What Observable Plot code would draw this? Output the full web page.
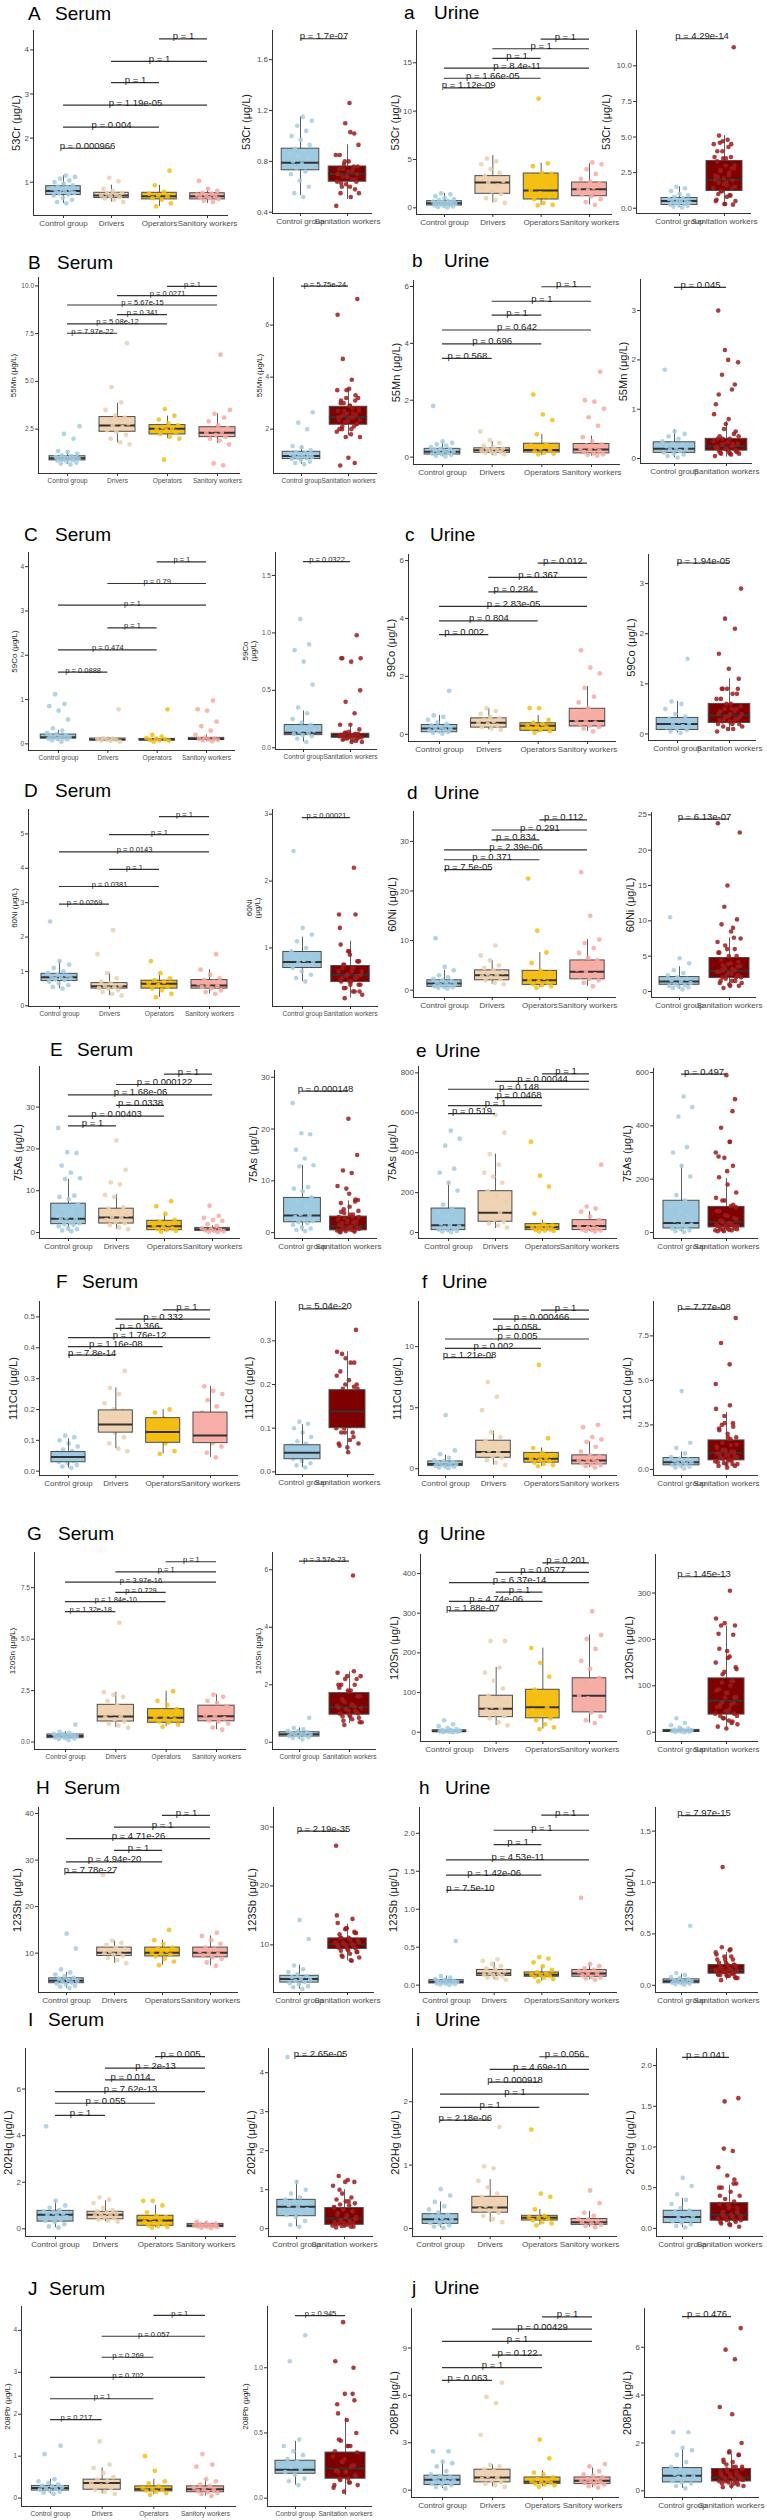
<!DOCTYPE html>
<html><head><meta charset="utf-8">
<script src="https://cdn.jsdelivr.net/npm/d3@7"></script>
<script src="https://cdn.jsdelivr.net/npm/@observablehq/plot@0.6"></script>
<style>
body{margin:0;background:#fff;}
#page{position:relative;width:767px;height:2520px;overflow:hidden;background:#fff;font-family:"Liberation Sans",Arial,sans-serif;}
#page svg{position:absolute;overflow:visible;}
</style></head><body><div id="page"></div>
<script>
// ---------- categories ----------
const groups4 = ["Control group","Drivers","Operators","Sanitory workers"];
const groups2 = ["Control group","Sanitation workers"];
const metals = ["53Cr","55Mn","59Co","60Ni","75As","111Cd","120Sn","123Sb","202Hg","208Pb"];
const panelIds = ["A","a","B","b","C","c","D","d","E","e","F","f","G","g","H","h","I","i","J","j"];
// bracket pair orders
const pairsA = [[0,1],[0,2],[0,3],[1,2],[1,3],[2,3]];
const pairsB = [[0,1],[0,2],[1,2],[0,3],[1,3],[2,3]];

// ---------- A: Serum 53Cr ----------
const A_pts = [[0.52,0.55,0.6,0.65,0.7,0.72,0.75,0.76,0.78,0.8,0.82,0.84,0.86,0.88,0.9,0.93,0.97,1.0,1.04,1.08,1.12,1.15],
 [0.55,0.6,0.63,0.66,0.68,0.7,0.72,0.74,0.76,0.8,0.85,1.02,1.1],
 [0.45,0.52,0.6,0.64,0.68,0.7,0.74,0.78,0.93,1.26],
 [0.55,0.58,0.62,0.64,0.66,0.68,0.7,0.72,0.74,0.76,0.8,0.85,1.03]];
const A_boxL = [[0.52,0.71,0.80,0.91,1.15],[0.55,0.64,0.70,0.76,0.93],[0.45,0.61,0.68,0.76,0.93],[0.52,0.61,0.68,0.75,0.85]];
const A_boxR = [[0.53,0.73,0.79,0.90,1.15],[0.5,0.64,0.70,0.76,0.93]];
const A_brY = [1.77,2.25,2.75,3.26,3.74,4.25];
const A_brP = ["0.000966","0.004","1.19e-05","1","1","1"];
const A_brR = [1.765,"1.7e-07"];
const A_ticks = [[1,2,3,4],[0.4,0.8,1.2,1.6]];

// ---------- a: Urine 53Cr ----------
const a_pts = [[0.05,0.1,0.15,0.2,0.25,0.3,0.35,0.4,0.45,0.5,0.55,0.6,0.65,0.7,0.8,0.9,1.0,1.2,1.4,1.5],
 [0.5,0.8,1.0,1.4,1.7,2.0,2.3,2.6,2.8,3.0,3.3,3.6,4.0,4.5,4.8,5.1],
 [0.25,0.3,0.5,0.9,1.2,1.5,1.8,2.2,2.8,3.5,3.6,4.3,4.6,11.3],
 [0.3,0.6,0.9,1.2,1.4,1.6,1.8,1.95,2.1,2.3,2.5,2.7,3.0,3.5,4.0,4.5,4.7]];
const a_boxL = [[0.05,0.24,0.48,0.69,1.5],[0.5,1.45,2.62,3.28,5.4],[0.25,0.86,1.79,3.55,4.6],[0.3,1.2,1.93,2.62,4.55]];
const a_boxR = [[0.05,0.23,0.51,0.72,1.5],[0.2,1.21,2.0,3.32,5.1]];
const a_brY = [12.41,13.4,14.45,15.45,16.45,17.45];
const a_brP = ["1.12e-09","1.66e-05","8.4e-11","1","1","1"];
const a_brR = [11.9,"4.29e-14"];
const a_ticks = [[0,5,10,15],[0,2.5,5,7.5,10]];

// ---------- B: Serum 55Mn ----------
const B_pts = [[0.65,0.7,0.75,0.8,0.85,0.88,0.9,0.93,0.95,0.97,1.0,1.02,1.05,1.08,1.12,1.2,1.3,1.35,2.0,2.25,2.65],
 [1.7,1.8,2.0,2.2,2.35,2.45,2.6,2.7,2.8,2.9,3.0,3.1,3.2,3.5,3.9,4.7,7.0],
 [0.9,2.0,2.1,2.25,2.35,2.45,2.5,2.55,2.6,2.7,2.8,3.0,3.2,3.55],
 [0.6,0.7,1.7,1.9,2.0,2.1,2.2,2.3,2.35,2.45,2.55,2.7,2.9,3.1,3.3,3.5,6.4]];
const B_boxL = [[0.65,0.86,0.98,1.08,1.35],[1.78,2.36,2.69,3.13,3.85],[2.0,2.22,2.52,2.71,3.18],[1.75,2.08,2.31,2.6,3.3]];
const B_boxR = [[0.65,0.85,0.97,1.13,1.35],[1.74,2.17,2.47,2.86,3.54]];
const B_brY = [7.52,8.01,8.5,9.0,9.49,9.98];
const B_brP = ["7.97e-22","5.08e-12","0.341","5.67e-15","0.0271","1"];
const B_brR = [7.5,"5.75e-24"];
const B_ticks = [[2.5,5,7.5,10],[2,4,6]];

// ---------- b: Urine 55Mn ----------
const b_pts = [[0.02,0.05,0.08,0.1,0.12,0.15,0.18,0.2,0.22,0.25,0.28,0.3,0.35,0.4,0.45,0.5,0.55,1.8],
 [0.1,0.12,0.15,0.18,0.2,0.22,0.25,0.28,0.3,0.33,0.4,0.5,0.6,0.9],
 [0.1,0.12,0.15,0.2,0.25,0.3,0.4,0.45,0.8,1.3,1.5,2.2],
 [0.05,0.08,0.1,0.13,0.18,0.22,0.27,0.3,0.35,0.4,0.45,0.55,0.7,1.1,1.4,1.7,1.95,2.0,3.0]];
const b_boxL = [[0.02,0.09,0.19,0.29,0.55],[0.05,0.15,0.24,0.31,0.55],[0.05,0.16,0.25,0.47,0.8],[0.03,0.13,0.27,0.46,0.74]];
const b_boxR = [[0.02,0.115,0.2,0.33,0.59],[0.03,0.16,0.25,0.4,0.75]];
const b_brY = [3.47,3.98,4.47,4.99,5.48,5.99];
const b_brP = ["0.568","0.696","0.642","1","1","1"];
const b_brR = [3.47,"0.045"];
const b_ticks = [[0,2,4,6],[0,1,2,3]];

// ---------- C: Serum 59Co ----------
const C_pts = [[0.05,0.08,0.1,0.11,0.12,0.13,0.14,0.15,0.16,0.18,0.2,0.22,0.25,0.3,0.35,0.55,0.75,0.85,0.9,1.12],
 [0.05,0.07,0.08,0.09,0.1,0.11,0.12,0.13,0.78],
 [0.05,0.07,0.08,0.09,0.1,0.11,0.13,0.16,0.2,0.78],
 [0.06,0.08,0.09,0.1,0.11,0.12,0.14,0.2,0.3,0.4,0.5,0.75,0.78,0.98]];
const C_boxL = [[0.05,0.12,0.15,0.21,0.3],[0.05,0.075,0.1,0.12,0.15],[0.05,0.075,0.1,0.11,0.15],[0.05,0.09,0.11,0.135,0.2]];
const C_boxR = [[0.05,0.11,0.13,0.198,0.32],[0.04,0.087,0.105,0.122,0.18]];
const C_brY = [1.62,2.12,2.62,3.13,3.62,4.11];
const C_brP = ["0.0888","0.474","1","1","0.79","1"];
const C_brR = [1.62,"0.0322"];
const C_ticks = [[0,1,2,3,4],[0,0.5,1,1.5]];

// ---------- c: Urine 59Co ----------
const c_pts = [[0.02,0.05,0.08,0.1,0.13,0.16,0.2,0.22,0.25,0.3,0.35,0.4,0.5,0.6,0.65,1.5],
 [0.15,0.2,0.25,0.3,0.35,0.4,0.45,0.5,0.55,0.6,0.7,0.8,0.9],
 [0.05,0.1,0.15,0.2,0.25,0.28,0.3,0.35,0.4,0.5,0.9,0.9],
 [0.1,0.2,0.25,0.3,0.35,0.4,0.45,0.5,0.6,0.7,0.8,0.9,1.1,1.3,1.6,2.1,2.3,2.9]];
const c_boxL = [[0.02,0.07,0.2,0.32,0.65],[0.15,0.23,0.4,0.55,0.9],[0.05,0.12,0.29,0.38,0.65],[0.1,0.27,0.46,0.88,1.65]];
const c_boxR = [[0.02,0.08,0.2,0.32,0.65],[0.05,0.22,0.37,0.6,1.1]];
const c_brY = [3.44,3.92,4.42,4.92,5.42,5.91];
const c_brP = ["0.002","0.804","2.83e-05","0.284","0.367","0.012"];
const c_brR = [3.41,"1.94e-05"];
const c_ticks = [[0,2,4,6],[0,1,2,3]];

// ---------- D: Serum 60Ni ----------
const D_pts = [[0.5,0.55,0.6,0.65,0.7,0.75,0.78,0.8,0.82,0.85,0.88,0.9,0.95,1.0,1.1,1.2,1.3,2.45],
 [0.3,0.35,0.4,0.45,0.5,0.52,0.55,0.58,0.6,0.65,0.7,0.8,0.95,1.5,2.2],
 [0.25,0.35,0.45,0.5,0.55,0.6,0.65,0.7,0.75,0.8,0.95,1.3],
 [0.35,0.4,0.45,0.5,0.55,0.58,0.6,0.65,0.7,0.75,0.8,0.9,1.05,1.5]];
const D_boxL = [[0.5,0.72,0.83,0.93,1.3],[0.3,0.5,0.57,0.66,0.95],[0.25,0.5,0.64,0.73,0.95],[0.35,0.5,0.59,0.75,1.05]];
const D_boxR = [[0.5,0.7,0.79,0.94,1.16],[0.25,0.49,0.6,0.73,1.1]];
const D_brY = [2.96,3.47,3.97,4.48,4.98,5.5];
const D_brP = ["0.0269","0.0381","1","0.0143","1","1"];
const D_brR = [2.95,"0.00021"];
const D_ticks = [[0,1,2,3,4,5],[1,2,3]];

// ---------- d: Urine 60Ni ----------
const d_pts = [[0.3,0.5,0.6,0.7,0.8,0.9,1.0,1.2,1.4,1.6,1.8,2.0,2.3,2.6,3.0,4.0,4.7,10.5],
 [1.2,1.5,2.0,2.3,2.6,2.8,3.0,3.3,3.6,4.0,4.5,5.0,6.0,7.0,9.0],
 [0.5,0.8,1.0,1.2,1.5,1.8,2.0,2.5,3.0,3.5,3.9,5.5,7.6,12,22.5],
 [0.8,1.5,2.0,2.3,2.8,3.2,3.7,4.2,5,5.5,6,6.5,7.5,8.5,9.5,10.2,15,23.8]];
const d_boxL = [[0.3,0.67,1.34,2.0,4.0],[1.2,2.0,3.0,4.0,6.0],[0.5,1.07,2.0,3.9,7.6],[0.8,2.2,3.7,6.0,10.2]];
const d_boxR = [[0.3,0.95,1.42,2.04,3.5],[0.5,1.9,2.94,4.74,7.6]];
const d_brY = [24.3,26.3,28.3,30.3,32.3,34.35];
const d_brP = ["7.5e-05","0.371","2.39e-06","0.834","0.291","0.112"];
const d_brR = [24.4,"6.13e-07"];
const d_ticks = [[0,10,20,30],[0,5,10,15,20,25]];

// ---------- E: Serum 75As ----------
const E_pts = [[0.3,0.5,0.8,1.0,1.5,1.8,2.0,2.2,2.5,3.0,3.3,3.6,4,5,6,6.8,8,8.5,8.8,12.8,13,14.3,16,19,19.2,25],
 [0.8,1.2,1.8,2.2,2.5,3,3.5,3.8,4.2,5,5.7,6,8.5,9,11.5,12,15,22],
 [0.2,0.4,0.6,0.8,1.0,1.3,1.6,2.0,2.5,3,4.5,6.3,7.5],
 [0.1,0.2,0.3,0.4,0.5,0.6,0.8,1.0,1.5,2.0,2.8,3,3.5,4,6.4]];
const E_boxL = [[0.3,2.0,3.3,6.9,12.7],[0.8,2.15,3.6,5.7,9],[0.2,0.56,1.5,2.8,4.5],[0.1,0.4,0.8,1.1,1.6]];
const E_boxR = [[0.3,2.0,3.3,6.7,13],[0.1,0.44,1.25,3.1,6.1]];
const E_brY = [25.5,27.85,30.4,32.9,35.4,37.9];
const E_brP = ["1","0.00403","0.0338","1.68e-06","0.000122","1"];
const E_brR = [27.3,"0.000148"];
const E_ticks = [[0,10,20,30],[0,10,20,30]];

// ---------- e: Urine 75As ----------
const e_pts = [[2,5,8,12,15,20,25,30,37,45,60,80,100,120,140,210,250,300,320,435,470,510],
 [25,35,45,54,65,80,99,120,150,180,207,250,280,300,340,393,500,590],
 [5,8,10,12,15,20,25,27,30,35,42,95,230,285,455],
 [5,8,10,12,15,20,25,33,40,50,62,80,104,120,130,340]];
const e_boxL = [[2,12,37,120,250],[20,54,99,207,393],[5,12,27,42,60],[5,12,33,62,104]];
const e_boxR = [[2,15,36,119,252],[5,19,39,96,202]];
const e_brY = [596,636,676,718,757,795];
const e_brP = ["0.519","1","0.0468","0.148","0.00044","1"];
const e_brR = [594,"0.497"];
const e_ticks = [[0,200,400,600,800],[0,200,400,600]];

// ---------- F: Serum 111Cd ----------
const F_pts = [[0.01,0.015,0.02,0.025,0.03,0.033,0.036,0.04,0.044,0.046,0.05,0.055,0.06,0.065,0.07,0.08,0.09,0.1,0.11,0.115],
 [0.065,0.073,0.09,0.11,0.125,0.135,0.145,0.15,0.16,0.17,0.18,0.195,0.2,0.22,0.25,0.27,0.325],
 [0.056,0.065,0.09,0.1,0.11,0.12,0.13,0.14,0.15,0.16,0.17,0.19,0.2],
 [0.045,0.06,0.08,0.09,0.1,0.105,0.11,0.115,0.12,0.13,0.15,0.17,0.19,0.21,0.23,0.25,0.26,0.275]];
const F_boxL = [[0.01,0.029,0.046,0.062,0.105],[0.073,0.125,0.151,0.197,0.27],[0.056,0.092,0.127,0.172,0.2],[0.045,0.091,0.116,0.19,0.275]];
const F_boxR = [[0.01,0.029,0.044,0.061,0.108],[0.042,0.1,0.138,0.187,0.275]];
const F_brY = [0.376,0.404,0.433,0.463,0.493,0.523];
const F_brP = ["7.8e-14","1.16e-08","1.76e-12","0.366","0.332","1"];
const F_brR = [0.373,"5.04e-20"];
const F_ticks = [[0,0.1,0.2,0.3,0.4,0.5],[0,0.1,0.2,0.3]];

// ---------- f: Urine 111Cd ----------
const f_pts = [[0.05,0.1,0.15,0.2,0.25,0.3,0.35,0.4,0.45,0.5,0.55,0.6,0.7,0.9,1.2,1.5,4.4],
 [0.3,0.5,0.7,0.9,1.0,1.2,1.37,1.5,1.8,2.0,2.3,2.6,3.0,4.8,5.9,7.1],
 [0.2,0.3,0.4,0.5,0.6,0.7,0.8,0.9,1.0,1.1,1.3,1.7,2.5,8.5],
 [0.1,0.2,0.3,0.36,0.45,0.55,0.65,0.7,0.8,0.9,1.0,1.1,1.4,1.8,2.2,2.4,2.6,3.4,3.6]];
const f_boxL = [[0.05,0.22,0.4,0.6,1.1],[0.3,0.9,1.37,2.3,3.07],[0.2,0.5,0.82,1.3,1.7],[0.1,0.36,0.68,1.1,2.2]];
const f_boxR = [[0.05,0.23,0.41,0.64,0.98],[0.1,0.51,0.94,1.63,3.2]];
const f_brY = [9.1,9.86,10.63,11.42,12.25,13.0];
const f_brP = ["1.21e-08","0.002","0.005","0.058","0.000466","1"];
const f_brR = [9.0,"7.77e-08"];
const f_ticks = [[0,5,10],[0,2.5,5,7.5]];

// ---------- G: Serum 120Sn ----------
const G_pts = [[0.1,0.15,0.18,0.2,0.22,0.25,0.27,0.29,0.3,0.32,0.35,0.38,0.4,0.45,0.5,0.85],
 [0.7,0.8,0.9,1.0,1.1,1.2,1.25,1.4,1.6,1.8,2.0,2.2,2.3,2.42,5.8],
 [0.75,0.85,0.95,1.0,1.1,1.15,1.2,1.3,1.5,1.6,1.8,2.0,2.47],
 [0.6,0.7,0.9,1.0,1.05,1.15,1.25,1.3,1.45,1.6,1.75,1.9,2.0,2.2,2.3]];
const G_boxL = [[0.1,0.19,0.29,0.37,0.5],[0.7,1.0,1.24,1.81,2.42],[0.75,0.94,1.18,1.6,2.47],[0.6,1.01,1.26,1.77,2.3]];
const G_boxR = [[0.1,0.2,0.28,0.35,0.5],[0.65,0.96,1.22,1.71,2.45]];
const G_brY = [6.34,6.82,7.27,7.77,8.27,8.76];
const G_brP = ["1.32e-18","1.84e-10","0.729","3.97e-16","1","1"];
const G_brR = [6.3,"3.57e-23"];
const G_ticks = [[0,2.5,5,7.5],[0,2,4,6]];

// ---------- g: Urine 120Sn ----------
const g_pts = [[0.1,0.5,1,1.5,2,2.5,3,4,5,6,8,10,15,20,30],
 [17,25,35,40,45,55,59,65,75,85,92,110,130,150,163,230,230],
 [8,12,20,30,35,45,55,63,75,90,100,107,140,175,212],
 [23,30,40,50,60,75,85,92,110,125,136,160,180,210,235,245,305]];
const g_boxL = [[0.1,0.5,2.5,5,10],[17,38,59,92,163],[8,35,63,107,212],[23,50,92,136,245]];
const g_boxR = [[0.1,0.5,3,5,10],[10,38,68,116,229]];
const g_brY = [306,330,353,377,403,427];
const g_brP = ["1.88e-07","4.74e-06","1","6.37e-14","0.0577","0.201"];
const g_brR = [335,"1.45e-13"];
const g_ticks = [[0,100,200,300,400],[0,100,200,300]];

// ---------- H: Serum 123Sb ----------
const H_pts = [[2.5,2.8,3.0,3.3,3.5,3.7,3.9,4.1,4.3,4.5,4.7,5.0,5.4,5.85,6.5,11,14.2],
 [7.85,8.5,9.0,9.4,9.7,10,10.1,10.4,10.8,11.2,11.8,12.2,12.65,26.8],
 [7.4,8.2,8.8,9.3,9.7,10,10.1,10.5,11,11.2,12,12.8,15],
 [7.3,8,8.8,9.1,9.5,9.8,10.1,10.4,10.8,11.2,12,12.8,13.7,14.4]];
const H_boxL = [[2.5,3.55,4.1,4.6,5.85],[7.85,9.4,10.1,11.2,12.65],[7.4,9.3,10.1,11.2,12.8],[7.3,9.1,10.1,11.2,13.7]];
const H_boxR = [[2.5,3.6,4.2,4.75,6.55],[7.3,9.3,10.1,11.1,13.5]];
const H_brY = [27.3,29.6,32.1,34.6,37.1,39.6];
const H_brP = ["7.78e-27","4.94e-20","1","4.71e-26","1","1"];
const H_brR = [29.3,"2.19e-35"];
const H_ticks = [[10,20,30,40],[10,20,30]];

// ---------- h: Urine 123Sb ----------
const h_pts = [[0.005,0.01,0.015,0.02,0.025,0.03,0.035,0.04,0.045,0.05,0.06,0.07,0.08,0.1,0.12,0.58],
 [0.07,0.09,0.1,0.12,0.13,0.14,0.15,0.16,0.18,0.2,0.22,0.25,0.28,0.32,0.34],
 [0.05,0.08,0.1,0.11,0.12,0.13,0.14,0.15,0.17,0.2,0.25,0.3,0.35,0.37],
 [0.07,0.09,0.1,0.11,0.13,0.15,0.16,0.18,0.2,0.22,0.25,0.28,1.15]];
const h_boxL = [[0.005,0.022,0.044,0.066,0.12],[0.07,0.12,0.154,0.2,0.3],[0.05,0.11,0.136,0.167,0.25],[0.07,0.11,0.154,0.2,0.28]];
const h_boxR = [[0.005,0.02,0.04,0.058,0.11],[0.05,0.113,0.15,0.198,0.32]];
const h_brY = [1.25,1.45,1.65,1.85,2.04,2.24];
const h_brP = ["7.5e-10","1.42e-06","4.53e-11","1","1","1"];
const h_brR = [1.65,"7.97e-15"];
const h_ticks = [[0,0.5,1,1.5,2],[0,0.5,1,1.5]];

// ---------- I: Serum 202Hg ----------
const I_pts = [[0.05,0.1,0.2,0.3,0.35,0.4,0.45,0.5,0.55,0.6,0.65,0.7,0.75,0.8,0.9,1.0,1.2,4.4],
 [0.3,0.35,0.4,0.45,0.5,0.55,0.6,0.62,0.65,0.7,0.75,0.8,0.9,1.1,1.25,1.35],
 [0.05,0.08,0.12,0.15,0.2,0.25,0.3,0.36,0.45,0.5,0.55,0.7,1.0,1.2,1.2],
 [0.03,0.05,0.07,0.08,0.1,0.12,0.14,0.15,0.17,0.2,0.22,0.25,0.3]];
const I_boxL = [[0.05,0.31,0.6,0.77,1.2],[0.3,0.41,0.6,0.73,1.2],[0.05,0.13,0.36,0.56,1.0],[0.03,0.07,0.14,0.21,0.3]];
const I_boxR = [[0.05,0.32,0.56,0.74,1.23],[0.02,0.1,0.26,0.53,1.0]];
const I_brY = [4.87,5.39,5.89,6.39,6.9,7.39];
const I_brP = ["1","0.055","7.62e-13","0.014","2e-13","0.005"];
const I_brR = [4.42,"2.65e-05"];
const I_ticks = [[0,2,4,6],[0,1,2,3,4]];

// ---------- i: Urine 202Hg ----------
const i_pts = [[0.01,0.03,0.05,0.07,0.09,0.11,0.13,0.15,0.17,0.2,0.22,0.25,0.3,0.35,0.42,0.52,0.62],
 [0.1,0.15,0.2,0.25,0.28,0.3,0.33,0.36,0.4,0.45,0.5,0.55,0.65,0.75,0.95,0.98,1.6],
 [0.05,0.08,0.1,0.13,0.15,0.17,0.18,0.2,0.3,0.5,0.55,1.56],
 [0.02,0.04,0.06,0.08,0.1,0.12,0.14,0.15,0.2,0.25,0.4,0.6]];
const i_boxL = [[0.01,0.073,0.147,0.226,0.42],[0.1,0.25,0.33,0.5,0.77],[0.05,0.126,0.168,0.2,0.3],[0.02,0.058,0.1,0.15,0.27]];
const i_boxR = [[0.01,0.065,0.139,0.216,0.37],[0.02,0.094,0.167,0.31,0.53]];
const i_brY = [1.71,1.91,2.12,2.31,2.51,2.71];
const i_brP = ["2.18e-06","1","1","0.000918","4.69e-10","0.056"];
const i_brR = [2.1,"0.041"];
const i_ticks = [[0,1,2],[0,0.5,1,1.5,2]];

// ---------- J: Serum 208Pb ----------
const J_pts = [[0.1,0.13,0.15,0.18,0.2,0.22,0.24,0.26,0.28,0.3,0.33,0.36,0.4,0.45,1.05,1.25],
 [0.1,0.15,0.2,0.25,0.3,0.36,0.4,0.44,0.5,0.6,0.72,0.8,1.35],
 [0.08,0.12,0.15,0.18,0.2,0.21,0.24,0.28,0.35,0.4,0.65,1.0],
 [0.05,0.1,0.12,0.14,0.17,0.2,0.21,0.25,0.28,0.32,0.4,0.45,0.75,0.8,1.05]];
const J_boxL = [[0.1,0.18,0.24,0.29,0.45],[0.1,0.2,0.36,0.44,0.72],[0.08,0.16,0.21,0.28,0.45],[0.05,0.14,0.21,0.28,0.45]];
const J_boxR = [[0.1,0.187,0.218,0.287,0.435],[0.02,0.149,0.228,0.35,0.615]];
const J_brY = [1.87,2.37,2.88,3.36,3.86,4.36];
const J_brP = ["0.217","1","0.702","0.269","0.057","1"];
const J_brR = [1.4,"0.945"];
const J_ticks = [[0,1,2,3,4],[0,0.5,1]];

// ---------- j: Urine 208Pb ----------
const j_pts = [[0.1,0.2,0.3,0.35,0.4,0.5,0.55,0.6,0.66,0.7,0.8,0.9,1.0,1.2,1.5,1.7,1.8,2.45,2.45],
 [0.2,0.3,0.4,0.5,0.6,0.7,0.8,0.9,1.0,1.2,1.3,1.5,1.6,3.5,5.5,5.9,6.8],
 [0.2,0.3,0.35,0.4,0.45,0.5,0.55,0.6,0.7,0.8,1.0,1.1,2.0,3.2],
 [0.15,0.25,0.35,0.4,0.45,0.5,0.55,0.6,0.65,0.7,0.8,0.9,1.0,1.2,1.5,1.65]];
const j_boxL = [[0.1,0.32,0.66,0.91,1.86],[0.2,0.49,0.8,1.29,1.6],[0.2,0.38,0.53,0.8,1.23],[0.15,0.38,0.59,0.8,1.4]];
const j_boxR = [[0.1,0.35,0.63,0.95,1.75],[0.05,0.39,0.56,0.91,1.54]];
const j_brY = [6.95,7.75,8.55,9.42,10.19,10.97];
const j_brP = ["0.063","1","0.122","1","0.00429","1"];
const j_brR = [7.28,"0.476"];
const j_ticks = [[0,3,6,9],[0,2,4,6]];

// ---------- registry ----------
const DATA = {
 A:{pts:A_pts,boxL:A_boxL,boxR:A_boxR,brY:A_brY,brP:A_brP,brR:A_brR,ticks:A_ticks},
 a:{pts:a_pts,boxL:a_boxL,boxR:a_boxR,brY:a_brY,brP:a_brP,brR:a_brR,ticks:a_ticks},
 B:{pts:B_pts,boxL:B_boxL,boxR:B_boxR,brY:B_brY,brP:B_brP,brR:B_brR,ticks:B_ticks},
 b:{pts:b_pts,boxL:b_boxL,boxR:b_boxR,brY:b_brY,brP:b_brP,brR:b_brR,ticks:b_ticks},
 C:{pts:C_pts,boxL:C_boxL,boxR:C_boxR,brY:C_brY,brP:C_brP,brR:C_brR,ticks:C_ticks},
 c:{pts:c_pts,boxL:c_boxL,boxR:c_boxR,brY:c_brY,brP:c_brP,brR:c_brR,ticks:c_ticks},
 D:{pts:D_pts,boxL:D_boxL,boxR:D_boxR,brY:D_brY,brP:D_brP,brR:D_brR,ticks:D_ticks},
 d:{pts:d_pts,boxL:d_boxL,boxR:d_boxR,brY:d_brY,brP:d_brP,brR:d_brR,ticks:d_ticks},
 E:{pts:E_pts,boxL:E_boxL,boxR:E_boxR,brY:E_brY,brP:E_brP,brR:E_brR,ticks:E_ticks},
 e:{pts:e_pts,boxL:e_boxL,boxR:e_boxR,brY:e_brY,brP:e_brP,brR:e_brR,ticks:e_ticks},
 F:{pts:F_pts,boxL:F_boxL,boxR:F_boxR,brY:F_brY,brP:F_brP,brR:F_brR,ticks:F_ticks},
 f:{pts:f_pts,boxL:f_boxL,boxR:f_boxR,brY:f_brY,brP:f_brP,brR:f_brR,ticks:f_ticks},
 G:{pts:G_pts,boxL:G_boxL,boxR:G_boxR,brY:G_brY,brP:G_brP,brR:G_brR,ticks:G_ticks},
 g:{pts:g_pts,boxL:g_boxL,boxR:g_boxR,brY:g_brY,brP:g_brP,brR:g_brR,ticks:g_ticks},
 H:{pts:H_pts,boxL:H_boxL,boxR:H_boxR,brY:H_brY,brP:H_brP,brR:H_brR,ticks:H_ticks},
 h:{pts:h_pts,boxL:h_boxL,boxR:h_boxR,brY:h_brY,brP:h_brP,brR:h_brR,ticks:h_ticks},
 I:{pts:I_pts,boxL:I_boxL,boxR:I_boxR,brY:I_brY,brP:I_brP,brR:I_brR,ticks:I_ticks},
 i:{pts:i_pts,boxL:i_boxL,boxR:i_boxR,brY:i_brY,brP:i_brP,brR:i_brR,ticks:i_ticks},
 J:{pts:J_pts,boxL:J_boxL,boxR:J_boxR,brY:J_brY,brP:J_brP,brR:J_brR,ticks:J_ticks},
 j:{pts:j_pts,boxL:j_boxL,boxR:j_boxR,brY:j_brY,brP:j_brP,brR:j_brR,ticks:j_ticks}
};

// ---------- layout (page pixels: [yAxisX, firstCat, lastCat, axisEnd, top, bottom]) ----------
const LAYOUT = {
 A:{t:[28,55,13],L:[33,63,207,228,30,215],R:[272,300,347,372,30,213],yL:[0.245,4.44],yR:[0.39,1.83],fL:"",fR:".1f",pairs:pairsA},
 a:{t:[404,434,12],L:[416,444,589,612,30,214],R:[636,679,724,751,30,213],yL:[-0.69,18.34],yR:[-0.37,12.48],fL:"",fR:".1f",pairs:pairsA},
 B:{t:[28,57,262],L:[38,67,217,240,277,473],R:[273,301,348,377,277,473],yL:[0.175,10.44],yR:[0.295,7.83],fL:".1f",fR:"",pairs:pairsB,small:true},
 b:{t:[412,444,260],L:[413,442,591,620,280,464],R:[640,674,726,752,279,463],yL:[-0.26,6.21],yR:[-0.1,3.63],fL:"",fR:"",pairs:pairsA},
 C:{t:[24,55,534],L:[28,58,206,235,552,750],R:[275,303,350,377,552,749],yL:[-0.15,4.32],yR:[-0.015,1.70],fL:"",fR:".1f",pairs:pairsB,small:true,two:true},
 c:{t:[405,430,534],L:[408,439,587,616,554,741],R:[648,677,729,756,554,740],yL:[-0.25,6.21],yR:[-0.13,3.58],fL:"",fR:"",pairs:pairsA},
 D:{t:[24,55,790],L:[28,59,209,240,809,1006],R:[272,302,350,378,809,1006],yL:[-0.02,5.71],yR:[0.125,3.07],fL:"",fR:"",pairs:pairsB,small:true,two:true},
 d:{t:[407,434,792],L:[413,444,587,616,811,997],R:[651,679,729,756,812,997],yL:[-1.47,36.03],yR:[-0.85,25.33],fL:"",fR:"",pairs:pairsA},
 E:{t:[50,77,1049],L:[39,68,212,240,1066,1238],R:[274,302,348,377,1070,1238],yL:[-1.43,39.7],yR:[-1.13,31.3],fL:"",fR:"",pairs:pairsB},
 e:{t:[416,435,1050],L:[418,448,589,617,1066,1238],R:[653,681,726,758,1068,1238],yL:[-30,832],yR:[-22.5,615],fL:"",fR:"",pairs:pairsB},
 F:{t:[56,82,1281],L:[39,68,210,238,1301,1475],R:[275,302,347,374,1301,1474],yL:[-0.014,0.55],yR:[-0.006,0.39],fL:".1f",fR:".1f",pairs:pairsA,boxTop:true},
 f:{t:[422,442,1281],L:[418,445,589,617,1301,1475],R:[653,681,726,758,1301,1475],yL:[-0.55,13.7],yR:[-0.34,9.43],fL:"",fR:".1f",pairs:pairsA},
 G:{t:[27,58,1533],L:[34,65,216,246,1552,1749],R:[272,299,349,376,1552,1749],yL:[-0.36,9.21],yR:[-0.25,6.6],fL:".1f",fR:"",pairs:pairsB,small:true},
 g:{t:[418,440,1533],L:[420,449,589,617,1554,1741],R:[655,681,726,758,1554,1741],yL:[-23.4,448],yR:[-20,383],fL:"",fR:"",pairs:pairsB},
 H:{t:[36,64,1787],L:[38,66,210,238,1807,1992],R:[273,299,347,374,1807,1992],yL:[1.55,41.3],yR:[1.92,33.3],fL:"",fR:"",pairs:pairsB},
 h:{t:[419,445,1787],L:[419,446,589,617,1807,1992],R:[655,681,726,758,1807,1992],yL:[-0.097,2.34],yR:[-0.07,1.73],fL:".1f",fR:".1f",pairs:pairsA},
 I:{t:[28,48,2019],L:[25,55,205,236,2048,2236],R:[268,296,344,373,2048,2236],yL:[-0.33,7.74],yR:[-0.2,4.62],fL:"",fR:"",pairs:pairsA},
 i:{t:[416,435,2019],L:[412,440,589,617,2048,2236],R:[656,682,729,763,2048,2236],yL:[-0.126,2.84],yR:[-0.1,2.21],fL:"",fR:".1f",pairs:pairsA},
 J:{t:[28,49,2288],L:[21,50,205,236,2306,2506],R:[267,295,345,372,2306,2506],yL:[-0.2,4.57],yR:[-0.064,1.47],fL:"",fR:".1f",pairs:pairsA,small:true},
 j:{t:[412,434,2287],L:[411,442,592,619,2308,2497],R:[644,682,731,759,2308,2497],yL:[-0.47,11.5],yR:[-0.28,7.62],fL:"",fR:"",pairs:pairsB}
};

// ---------- styles ----------
const boxCols4 = ["#9ecae1","#efd3b2","#f4bf12","#f7aea6"];
const ptCols4  = ["#a3cde3","#ecd0ae","#f5c01a","#f8aaa2"];
const boxCols2 = ["#9ecae1","#7f0000"];
const ptCols2  = ["#a3cde3","#9c1c1c"];
const FONT = "Liberation Sans, Arial, sans-serif";

const page = document.getElementById("page");

function jit(k, g) { return ((((k + 1) * 0.6180339887 + g * 0.37) % 1) - 0.5) * 0.5; }

function subplot(cfg) {
  const [axisX, c0, cN, end, top, bottom] = cfg.geom;
  const n = cfg.names.length;
  const ML = 50, MR = 6, MT = 2, MB = 24;
  const width = (end - axisX) + ML + MR;
  const height = (bottom - top) + MT + MB;
  const step = (cN - c0) / (n - 1);
  const xDom = [-(c0 - axisX) / step, (n - 1) + (end - cN) / step];
  const yDom = cfg.yDom;
  const fmtF = cfg.fmt ? d3.format(cfg.fmt) : (d => String(d));
  const fonts = cfg.fonts;
  const maxChars = d3.max(cfg.ticks, t => fmtF(t).length);
  const yOff = 3 + 2 + maxChars * fonts.tick * 0.56 + 1.5 + fonts.yt * 0.55 * (cfg.ylabel.includes("\n") ? 2 : 1);
  const bw = cfg.boxW;
  const boxData = cfg.boxes.map((b, i) => ({i, lo: b[0], q1: b[1], med: b[2], q3: b[3], hi: b[4]}));
  const pointData = cfg.pts.flatMap((arr, g) => arr.map((v, k) => ({x: g + jit(k, g), y: v, g})));
  const br = cfg.brackets;
  const boxMarks = [
    Plot.ruleX(boxData, {x: "i", y1: "lo", y2: "hi", stroke: "#4d4d4d", strokeWidth: 0.9}),
    Plot.rect(boxData, {x1: d => d.i - bw / 2, x2: d => d.i + bw / 2, y1: "q1", y2: "q3", fill: d => cfg.colors[d.i], stroke: "#4d4d4d", strokeWidth: 1}),
    Plot.ruleY(boxData, {x1: d => d.i - bw / 2, x2: d => d.i + bw / 2, y: "med", stroke: "#333", strokeWidth: 2})
  ];
  const dotMark = Plot.dot(pointData, {x: "x", y: "y", r: cfg.r, fill: d => cfg.ptColors[d.g], fillOpacity: 0.85, stroke: "none"});
  const marks = [
    ...(cfg.boxTop ? [dotMark, ...boxMarks] : [...boxMarks, dotMark]),
    Plot.ruleY(br, {x1: "a", x2: "b", y: "y", stroke: "#333", strokeWidth: 1.2}),
    Plot.text(br, {x: d => (d.a + d.b) / 2, y: "y", text: "t", lineAnchor: "bottom", dy: 0.5, fontSize: fonts.p, fill: "#1a1a1a"}),
    Plot.ruleX([xDom[0]], {stroke: "#333", strokeWidth: 1}),
    Plot.ruleY([yDom[0]], {stroke: "#333", strokeWidth: 1}),
    Plot.axisY({ticks: cfg.ticks, tickFormat: fmtF, tickSize: 3, tickPadding: 1.5, fontSize: fonts.tick, fill: "#4d4d4d", stroke: "#333", label: null}),
    Plot.axisX({ticks: d3.range(n), tickFormat: i => cfg.names[i], tickSize: 3, tickPadding: 2, fontSize: fonts.x, fill: "#4d4d4d", stroke: "#333", label: null}),
    Plot.text([cfg.ylabel], {frameAnchor: "left", dx: -yOff, rotate: -90, text: d => d, fontSize: fonts.yt, fill: "#1a1a1a", lineAnchor: "middle", textAnchor: "middle"})
  ];
  const svg = Plot.plot({
    width, height, marginLeft: ML, marginRight: MR, marginTop: MT, marginBottom: MB,
    x: {domain: xDom}, y: {domain: yDom}, color: {type: "identity"},
    style: {fontFamily: FONT, overflow: "visible", background: "transparent"},
    marks
  });
  svg.style.left = (axisX - ML) + "px";
  svg.style.top = (top - MT) + "px";
  page.appendChild(svg);
}

// titles overlay
const titleSvg = d3.create("svg").attr("width", 767).attr("height", 2520).style("left", "0px").style("top", "0px");

panelIds.forEach((id, idx) => {
  const L = LAYOUT[id], D = DATA[id];
  const metal = metals[Math.floor(idx / 2)];
  const tissue = idx % 2 === 0 ? "Serum" : "Urine";
  const fonts = L.small ? {tick: 6.5, x: 6.6, yt: 8, p: 7.5} : {tick: 8, x: 8, yt: 11, p: 9.5};
  const label = metal + " (μg/L)";
  titleSvg.append("text").attr("x", L.t[0]).attr("y", L.t[2] + 7).attr("font-size", 19).attr("font-family", FONT).attr("fill", "#000").text(id);
  titleSvg.append("text").attr("x", L.t[1]).attr("y", L.t[2] + 7).attr("font-size", 19).attr("font-family", FONT).attr("fill", "#000").text(tissue);
  subplot({
    geom: L.L, names: groups4, yDom: L.yL, ticks: D.ticks[0], fmt: L.fL, boxes: D.boxL, pts: D.pts,
    colors: boxCols4, ptColors: ptCols4, fonts, ylabel: label, boxTop: L.boxTop, boxW: 0.72, r: 2.4,
    brackets: L.pairs.map((p, k) => ({a: p[0], b: p[1], y: D.brY[k], t: "p = " + D.brP[k]}))
  });
  subplot({
    geom: L.R, names: groups2, yDom: L.yR, ticks: D.ticks[1], fmt: L.fR, boxes: D.boxR,
    pts: [D.pts[0], [...D.pts[1], ...D.pts[2], ...D.pts[3]]],
    colors: boxCols2, ptColors: ptCols2, fonts, ylabel: L.two ? metal + "\n(μg/L)" : label, boxTop: L.boxTop, boxW: 0.8, r: 2.3,
    brackets: [{a: 0, b: 1, y: D.brR[0], t: "p = " + D.brR[1]}]
  });
});
page.appendChild(titleSvg.node());
</script>
</body></html>
